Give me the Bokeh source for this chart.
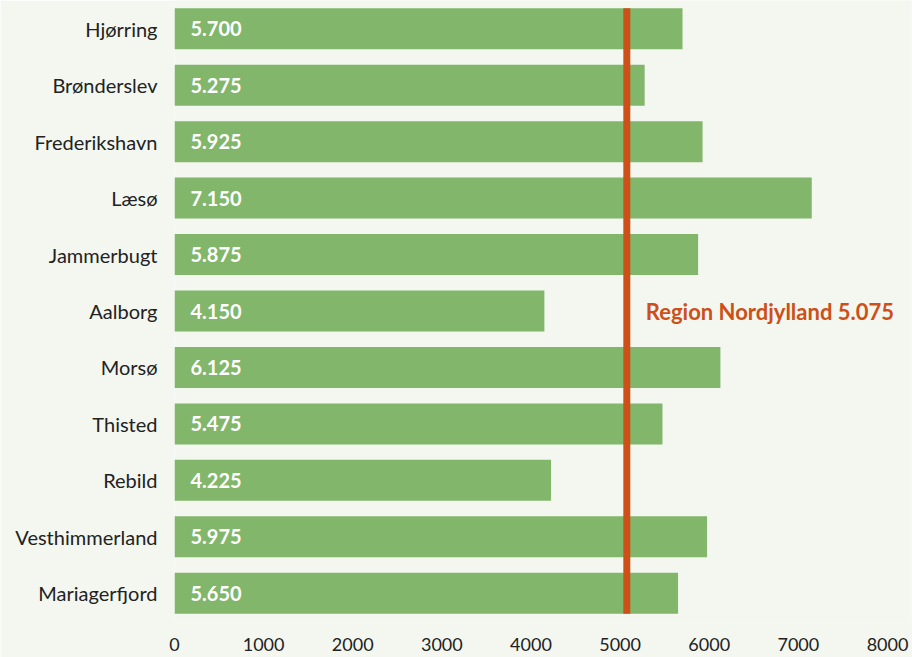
from bokeh.plotting import figure
from bokeh.models import FactorRange, FixedTicker, ColumnDataSource, Range1d
from bokeh.core.properties import value
from bokeh.embed import file_html
from bokeh.resources import INLINE

municipalities = ["Hjørring", "Brønderslev", "Frederikshavn", "Læsø", "Jammerbugt",
                  "Aalborg", "Morsø", "Thisted", "Rebild", "Vesthimmerland", "Mariagerfjord"]
amounts = [5700, 5275, 5925, 7150, 5875, 4150, 6125, 5475, 4225, 5975, 5650]
region_name = "Region Nordjylland"
region_value = 5075
x_ticks = [0, 1000, 2000, 3000, 4000, 5000, 6000, 7000, 8000]

def dk(v):
    return f"{v:,}".replace(",", ".")

BG = "#f3f7f0"
GREEN = "#82b66a"
RED = "#cc5018"
FONT = "Lato"

labels = [dk(v) for v in amounts]
src = ColumnDataSource(dict(cat=municipalities, amt=amounts, lab=labels, zero=[0] * len(amounts)))

p = figure(width=912, height=657, output_backend="svg", toolbar_location=None,
           y_range=FactorRange(*list(reversed(municipalities)), range_padding=0),
           x_range=Range1d(0, 8258),
           min_border_left=174, min_border_right=2, min_border_top=0, min_border_bottom=36,
           background_fill_color=BG, border_fill_color=BG, outline_line_color=None)

p.hbar(y="cat", left=0, right="amt", height=0.726, source=src, color=GREEN, line_color=None)

p.text(x="zero", y="cat", text="lab", source=src, x_offset=16,
       text_font=value(FONT), text_font_style="bold", text_font_size="20px",
       text_color="white", text_baseline="middle", text_align="left")

p.segment(x0=[region_value], x1=[region_value],
          y0=[(municipalities[0], 0.363)], y1=[(municipalities[-1], -0.363)],
          line_color=RED, line_width=7)

p.text(x=[region_value], y=["Aalborg"], text=[f"{region_name} {dk(region_value)}"],
       x_offset=19, text_font=value(FONT), text_font_style="bold", text_font_size="22px",
       text_color=RED, text_baseline="middle", text_align="left")

p.xgrid.visible = False
p.ygrid.visible = False

for ax in (p.xaxis[0], p.yaxis[0]):
    ax.axis_line_color = None
    ax.major_tick_line_color = None
    ax.minor_tick_line_color = None
    ax.major_label_text_font = FONT
    ax.major_label_text_color = "#222222"

p.xaxis.major_label_text_font_size = "18px"
p.yaxis.major_label_text_font_size = "20px"
p.xaxis.ticker = FixedTicker(ticks=x_ticks)
p.xaxis.major_label_standoff = 10
p.yaxis.major_label_standoff = 11

open("out.html", "w").write(file_html(p, INLINE))
